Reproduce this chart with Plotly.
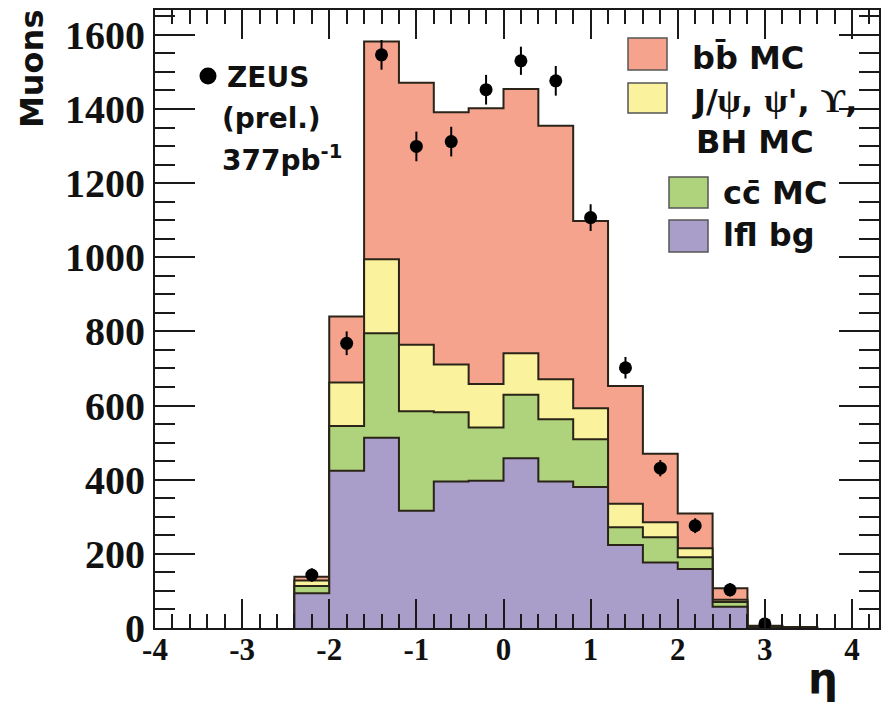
import plotly.graph_objects as go

# ---------------- data ----------------
bin_edges = [-2.4, -2.0, -1.6, -1.2, -0.8, -0.4, 0.0, 0.4, 0.8, 1.2, 1.6, 2.0, 2.4, 2.8, 3.2, 3.6]
lfl_bg   = [94, 424, 513, 316, 395, 397, 458, 395, 380, 224, 177, 159, 57, 3, 1]
cc_mc    = [19, 121, 282, 269, 187, 144, 171, 168, 129, 48, 68, 32, 13, 1, 0]
jpsi_mc  = [15, 117, 200, 179, 129, 117, 112, 108, 84, 63, 40, 24, 6, 1, 1]
bb_mc    = [10, 178, 587, 707, 680, 744, 713, 684, 505, 318, 185, 94, 31, 1, 1]

data_x   = [-2.2, -1.8, -1.4, -1.0, -0.6, -0.2, 0.2, 0.6, 1.0, 1.4, 1.8, 2.2, 2.6, 3.0]
data_y   = [143, 768, 1546, 1299, 1312, 1452, 1530, 1476, 1107, 702, 431, 276, 103, 11]
data_err = [18, 32, 40, 40, 40, 40, 38, 40, 36, 29, 22, 20, 18, 5]

x_tickvals = [-4, -3, -2, -1, 0, 1, 2, 3, 4]
x_ticktext = ["-4", "-3", "-2", "-1", "0", "1", "2", "3", "4"]
y_tickvals = [0, 200, 400, 600, 800, 1000, 1200, 1400, 1600]
y_ticktext = ["0", "200", "400", "600", "800", "1000", "1200", "1400", "1600"]

# ---------------- styles ----------------
C_BB = "#F5A38D"
C_JPSI = "#FAF29C"
C_CC = "#AFD37D"
C_LFL = "#A99DC9"
EDGE = "#2a2418"
AX = "#1a1a1a"

# page body has an 8px margin: the figure is sized to fit the window exactly
OFF = 8
W, H = 895 - OFF, 706 - OFF
PLOT_L, PLOT_R, PLOT_T, PLOT_B = 155, 879, 10, 628  # target window pixels
L = PLOT_L - OFF
R = W - (PLOT_R - OFF)
T = PLOT_T - OFF
B = H - (PLOT_B - OFF)


def px2paper(px, py):
    return (px - PLOT_L) / (PLOT_R - PLOT_L), (PLOT_B - py) / (PLOT_B - PLOT_T)


def cumulate(*layers):
    out = [0] * len(layers[0])
    for lay in layers:
        out = [a + b for a, b in zip(out, lay)]
    return out


def step_xy(edges, vals):
    xs = [edges[0]] + list(edges)
    ys = [0] + list(vals) + [0]
    return xs, ys


fig = go.Figure()

stacks = [
    (cumulate(lfl_bg, cc_mc, jpsi_mc, bb_mc), C_BB, "bb MC"),
    (cumulate(lfl_bg, cc_mc, jpsi_mc), C_JPSI, "J/psi"),
    (cumulate(lfl_bg, cc_mc), C_CC, "cc MC"),
    (cumulate(lfl_bg), C_LFL, "lfl bg"),
]
for vals, col, nm in stacks:
    xs, ys = step_xy(bin_edges, vals)
    fig.add_trace(go.Scatter(
        x=xs, y=ys, mode="lines", line=dict(shape="hv", color=EDGE, width=2),
        fill="tozeroy", fillcolor=col, name=nm, showlegend=False, hoverinfo="skip"))

fig.add_trace(go.Scatter(
    x=data_x, y=data_y, mode="markers",
    marker=dict(color="black", size=13, symbol="circle"),
    error_y=dict(type="data", array=data_err, visible=True, color="black",
                 thickness=2, width=0),
    showlegend=False, name="ZEUS"))

fig.update_layout(
    width=W, height=H,
    margin=dict(l=L, r=R, t=T, b=B, autoexpand=False),
    paper_bgcolor="white", plot_bgcolor="white",
    showlegend=False,
)

fig.update_xaxes(
    range=[-4, 4.31], showgrid=False, zeroline=False,
    showline=True, linecolor=AX, linewidth=2, mirror="ticks",
    ticks="inside", ticklen=29, tickwidth=2, tickcolor=AX,
    tickmode="array", tickvals=x_tickvals, ticktext=x_ticktext,
    ticklabelstandoff=-7,
    tickfont=dict(family="Liberation Serif", size=31, color="#111", weight="bold"),
    minor=dict(tickmode="linear", tick0=0, dtick=0.2, ticks="inside", ticklen=14,
               tickwidth=2, tickcolor=AX, showgrid=False),
)
fig.update_yaxes(
    range=[0, 1667], showgrid=False, zeroline=False,
    showline=True, linecolor=AX, linewidth=2, mirror="ticks",
    ticks="inside", ticklen=40, tickwidth=2, tickcolor=AX,
    tickmode="array", tickvals=y_tickvals, ticktext=y_ticktext,
    tickfont=dict(family="Liberation Serif", size=40, color="#111", weight="bold"),
    minor=dict(tickmode="linear", tick0=0, dtick=50, ticks="inside", ticklen=20,
               tickwidth=2, tickcolor=AX, showgrid=False),
)

SANS = "DejaVu Sans"
SERIF = "Liberation Serif"


def add_text(px, py, text, size, xanchor="left", yanchor="middle", angle=0, family=SANS):
    xp, yp = px2paper(px, py)
    fig.add_annotation(
        x=xp, y=yp, xref="paper", yref="paper", text=text, showarrow=False,
        xanchor=xanchor, yanchor=yanchor, textangle=angle,
        font=dict(family=family, size=size, color="#111", weight="bold"))


def add_box(x0, y0, x1, y1, col):
    a0, b0 = px2paper(x0, y1)
    a1, b1 = px2paper(x1, y0)
    fig.add_shape(type="rect", xref="paper", yref="paper", x0=a0, y0=b0, x1=a1, y1=b1,
                  fillcolor=col, line=dict(color="#555", width=1.5))


# y title
add_text(32, 69, "Muons", 32, xanchor="center", angle=-90)
# x title
add_text(823, 678, "η", 42, xanchor="center")

# ZEUS block
xp, yp = px2paper(208, 76)
rx = 8.5 / (PLOT_R - PLOT_L)
ry = 8.5 / (PLOT_B - PLOT_T)
fig.add_shape(type="circle", xref="paper", yref="paper",
              x0=xp - rx, x1=xp + rx, y0=yp - ry, y1=yp + ry,
              fillcolor="black", line=dict(color="black", width=0))
add_text(225, 77, "ZEUS", 28)
add_text(220, 118, "(prel.)", 28)
add_text(220, 158, "377pb<sup>-1</sup>", 28)

# Legend
add_box(628, 38, 667, 70, C_BB)
add_text(690, 58, "bb\u0304 MC", 32)
add_box(628, 83, 667, 113, C_JPSI)
psi = "<span style='font-family:Liberation Serif;font-size:34px'>ψ</span>"
ups = "<span style='font-family:Liberation Serif;font-size:34px'>ϒ</span>"
add_text(690, 101, f"J/{psi}, {psi}', {ups},", 32)
add_text(694, 142, "BH MC", 32)
add_box(669, 177, 708, 208, C_CC)
add_text(721, 193, "cc\u0304 MC", 32)
add_box(669, 220, 708, 252, C_LFL)
add_text(721, 235, "lfl bg", 32)

fig.write_html("out.html")
